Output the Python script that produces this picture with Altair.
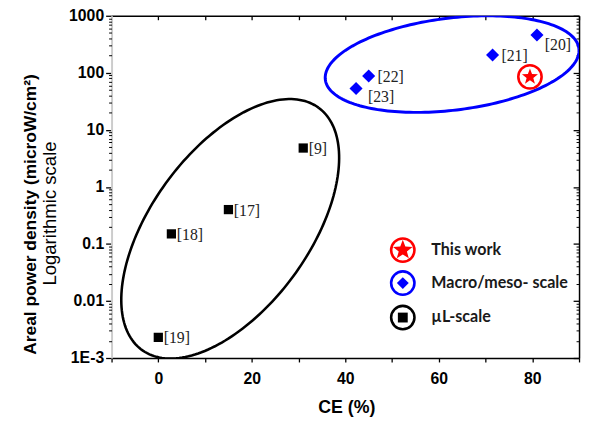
import math
import numpy as np
import pandas as pd
import altair as alt

# ---------------- data ----------------
macro_ce = [81.0, 71.5, 45.0, 42.3]
macro_apd = [460.0, 205.0, 88.0, 53.0]
macro_ref = ["[20]", "[21]", "[22]", "[23]"]

ul_ce = [31.0, 15.0, 2.8, 0.0]
ul_apd = [4.8, 0.4, 0.15, 0.0023]
ul_ref = ["[9]", "[17]", "[18]", "[19]"]

this_ce = [79.5]
this_apd = [85.0]

legend_labels = ["This work", "Macro/meso- scale", "\u00b5L-scale"]
legend_ce = [52.3, 52.3, 52.3]
legend_apd = [0.078, 0.0206, 0.00512]
legend_text_ce = [58.4, 58.4, 58.4]

x_ticks = [-10, 0, 10, 20, 30, 40, 50, 60, 70, 80, 90]
y_major = [0.001, 0.01, 0.1, 1, 10, 100, 1000]
y_minor = [k * d for d in [0.001, 0.01, 0.1, 1, 10, 100] for k in range(2, 10)]

# ---------------- layout ----------------
W, H = 474, 347
PX_PER_CE = W / 100.0
PX_PER_DEC = H / 6.0


def ellipse(cx, cy, a, b, theta_deg, n=200):
    """Ellipse annotation given in pixel space of the plot, mapped to data space."""
    th = math.radians(theta_deg)
    t = np.linspace(0, 2 * math.pi, n)
    px = cx + a * np.cos(t) * math.cos(th) - b * np.sin(t) * math.sin(th)
    py = cy - (a * np.cos(t) * math.sin(th) + b * np.sin(t) * math.cos(th))
    ce = -10 + px / PX_PER_CE
    apd = 10 ** (3 - py / PX_PER_DEC)
    return pd.DataFrame({"ce": ce, "apd": apd, "o": np.arange(n)})


blue_ell = ellipse(458 - 112.7, 62 - 13, 129.5, 46.7, 7)
black_ell = ellipse(233 - 112.7, 229 - 13, 152, 80, 53.9)

macro_df = pd.DataFrame({"ce": macro_ce, "apd": macro_apd, "ref": macro_ref})
ul_df = pd.DataFrame({"ce": ul_ce, "apd": ul_apd, "ref": ul_ref})
this_df = pd.DataFrame({"ce": this_ce, "apd": this_apd})
leg_df = pd.DataFrame({"label": legend_labels, "ce": legend_ce, "apd": legend_apd,
                       "tce": legend_text_ce, "row": [0, 1, 2]})

xs = alt.Scale(domain=[-10, 90], nice=False, zero=False)
ys = alt.Scale(type="log", domain=[0.001, 1000], nice=False)

STAR = "M" + "L".join(
    f"{(1.0 if i % 2 == 0 else 0.42) * math.cos(math.radians(-90 + 36 * i)):.4f},"
    f"{(1.0 if i % 2 == 0 else 0.42) * math.sin(math.radians(-90 + 36 * i)):.4f}"
    for i in range(10)
) + "Z"

NOAX = None

def X(axis=NOAX, field="ce"):
    return alt.X(f"{field}:Q", scale=xs, axis=axis)

def Y(axis=NOAX, field="apd"):
    return alt.Y(f"{field}:Q", scale=ys, axis=axis)

# ---------------- axes layers ----------------
ax_font = "Arial, Liberation Sans"

axis_main = alt.Chart(macro_df).mark_point(opacity=0).encode(
    x=X(alt.Axis(orient="bottom", values=x_ticks,
                 labelExpr="datum.value % 20 == 0 ? datum.value : ''",
                 tickSize=4, tickColor="black", tickWidth=1.3,
                 domainColor="black", domainWidth=1.5, grid=False,
                 labelFont=ax_font, labelFontSize=16, labelFontWeight="bold", labelColor="black",
                 labelPadding=9, labelFlush=False,
                 title="CE (%)", titleFont=ax_font, titleFontSize=18, titleFontWeight="bold",
                 titleColor="black", titleBaseline="top", titleY=41, titleX=W / 2 + 1)),
    y=Y(alt.Axis(orient="left", values=y_major,
                 labelExpr="datum.value < 0.005 ? '1E-3' : format(datum.value, '~g')",
                 tickSize=6, tickColor="black", tickWidth=1.3,
                 domainColor="#cccccc", domainWidth=2, grid=False,
                 labelFont=ax_font, labelFontSize=16, labelFontWeight="bold", labelColor="black",
                 labelPadding=2, labelFlush=False,
                 title="Areal power density (microW/cm\u00b2)", titleFont=ax_font,
                 titleFontSize=17.6, titleFontWeight="bold", titleColor="black",
                 titleBaseline="middle", titleAngle=270, titleX=-82, titleY=201)),
)

axis_minor = alt.Chart(macro_df).mark_point(opacity=0).encode(
    x=X(NOAX),
    y=Y(alt.Axis(orient="left", values=y_minor, labels=False, tickSize=3, tickColor="black",
                 tickWidth=1, domain=False, grid=False,
                 title="Logarithmic scale", titleFont=ax_font, titleFontSize=18.8,
                 titleFontWeight="normal", titleColor="black",
                 titleBaseline="middle", titleAngle=270, titleX=-63, titleY=200)),
)

axis_far = alt.Chart(macro_df).mark_point(opacity=0).encode(
    x=X(alt.Axis(orient="bottom", offset=-H, values=x_ticks, labels=False, tickSize=4,
                 tickColor="black", tickWidth=1.3, domainColor="black", domainWidth=1.5,
                 grid=False, title=None)),
    y=Y(alt.Axis(orient="left", offset=-W, values=y_major, labels=False, tickSize=6,
                 tickColor="black", tickWidth=1.3, domainColor="black", domainWidth=1.5,
                 grid=False, title=None)),
)

axis_far_minor = alt.Chart(macro_df).mark_point(opacity=0).encode(
    x=X(NOAX),
    y=Y(alt.Axis(orient="left", offset=-W, values=y_minor, labels=False, tickSize=3,
                 tickColor="black", tickWidth=1, domain=False, grid=False, title=None)),
)

# ---------------- data layers ----------------
ell_blue = alt.Chart(blue_ell).mark_line(color="#0000ff", strokeWidth=3, clip=True).encode(
    x=X(), y=Y(), order="o:Q")
ell_black = alt.Chart(black_ell).mark_line(color="black", strokeWidth=2.6, clip=True).encode(
    x=X(), y=Y(), order="o:Q")

macro_pts = alt.Chart(macro_df).mark_point(shape="diamond", filled=True, color="#0000ff",
                                           size=175, opacity=1).encode(x=X(), y=Y())
ul_pts = alt.Chart(ul_df).mark_point(shape="square", filled=True, color="black",
                                     size=88, opacity=1).encode(x=X(), y=Y())
this_ring = alt.Chart(this_df).mark_point(shape="circle", filled=False, color="red",
                                          strokeWidth=2.6, size=560, opacity=1).encode(x=X(), y=Y())
this_star = alt.Chart(this_df).mark_point(shape=STAR, filled=True, color="red",
                                          size=290, opacity=1).encode(x=X(), y=Y())

lab_style = dict(font="Liberation Serif", fontSize=16, color="#222222", align="left",
                 baseline="middle")
lab_macro = alt.Chart(macro_df).mark_text(dx=9, dy=1, **lab_style).encode(
    x=X(), y=Y(), text="ref:N").transform_filter(
    alt.FieldOneOfPredicate(field="ref", oneOf=["[21]", "[22]"]))
lab_20 = alt.Chart(macro_df).mark_text(dx=8, dy=10, **lab_style).encode(
    x=X(), y=Y(), text="ref:N").transform_filter(alt.datum.ref == "[20]")
lab_23 = alt.Chart(macro_df).mark_text(dx=12, dy=9, **lab_style).encode(
    x=X(), y=Y(), text="ref:N").transform_filter(alt.datum.ref == "[23]")
lab_ul = alt.Chart(ul_df).mark_text(dx=5.5, dy=1, **lab_style).encode(
    x=X(), y=Y(), text="ref:N")

# ---------------- legend ----------------
ring_colors = alt.Scale(domain=[0, 1, 2], range=["red", "#0000ff", "black"])
leg_rings = alt.Chart(leg_df).mark_point(shape="circle", filled=False, strokeWidth=2.6,
                                         size=560, opacity=1).encode(
    x=X(), y=Y(), stroke=alt.Stroke("row:O", scale=ring_colors, legend=None))
leg_star = alt.Chart(leg_df).transform_filter(alt.datum.row == 0).mark_point(
    shape=STAR, filled=True, color="red", size=430, opacity=1).encode(x=X(), y=Y())
leg_diam = alt.Chart(leg_df).transform_filter(alt.datum.row == 1).mark_point(
    shape="diamond", filled=True, color="#0000ff", size=145, opacity=1).encode(x=X(), y=Y())
leg_sq = alt.Chart(leg_df).transform_filter(alt.datum.row == 2).mark_point(
    shape="square", filled=True, color="black", size=100, opacity=1).encode(x=X(), y=Y())
leg_text = alt.Chart(leg_df).mark_text(font="Lato", fontSize=16.3, fontWeight="bold",
                                       color="#1a1a1a", align="left", baseline="middle").encode(
    x=X(field="tce"), y=Y(), text="label:N")

chart = alt.layer(
    axis_main, axis_minor, axis_far, axis_far_minor,
    ell_blue, ell_black,
    macro_pts, ul_pts, this_ring, this_star,
    lab_macro, lab_20, lab_23, lab_ul,
    leg_rings, leg_star, leg_diam, leg_sq, leg_text,
).resolve_axis(x="independent", y="independent").properties(
    width=W, height=H,
    padding={"left": 105, "top": 5, "right": 3, "bottom": 62},
    autosize=alt.AutoSizeParams(type="none"),
).configure_view(stroke=None)

chart.save("out.html", embed_options={"renderer": "svg", "actions": False})
